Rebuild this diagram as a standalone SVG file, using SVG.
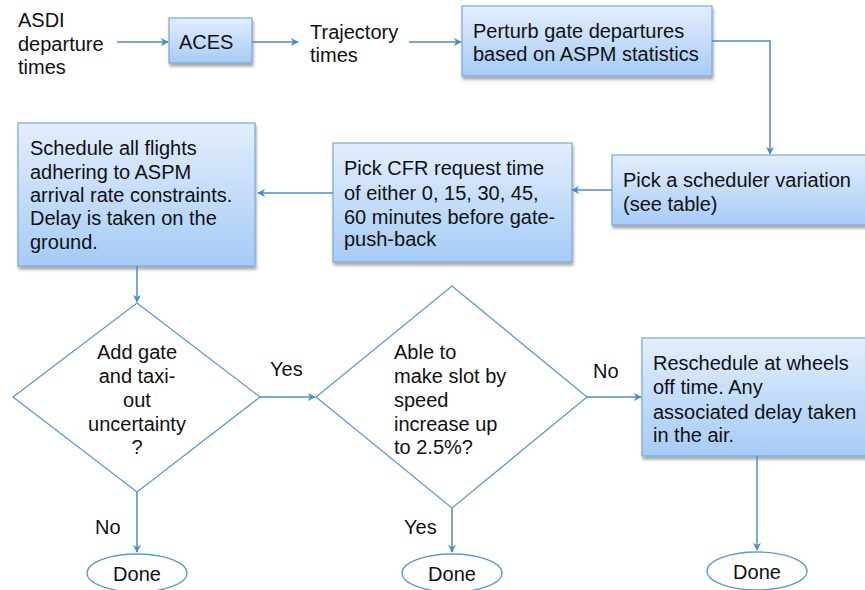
<svg xmlns="http://www.w3.org/2000/svg" width="865" height="590" viewBox="0 0 865 590">
<defs>
<linearGradient id="bg" x1="0" y1="0" x2="0" y2="1">
<stop offset="0" stop-color="#e3eefc"/>
<stop offset="1" stop-color="#a6cbf6"/>
</linearGradient>
<filter id="sh" x="-10%" y="-10%" width="130%" height="140%">
<feDropShadow dx="1" dy="3" stdDeviation="1.5" flood-color="#000" flood-opacity="0.35"/>
</filter>
<marker id="ar" viewBox="0 0 10 10" refX="9" refY="5" markerWidth="8" markerHeight="8" markerUnits="userSpaceOnUse" orient="auto">
<path d="M0,0 L10,5 L0,10 L3,5 Z" fill="#4a8ec8"/>
</marker>
<style>
.box{fill:url(#bg);stroke:#7aa8d8;stroke-width:1.2;filter:url(#sh)}
.dia{fill:#fff;stroke:#5b9bd5;stroke-width:1.3}
.ell{fill:#fff;stroke:#5b9bd5;stroke-width:1.3}
.c{fill:none;stroke:#4a8ec8;stroke-width:1.5;marker-end:url(#ar)}
text{font-family:"Liberation Sans",Arial,sans-serif;font-size:20px;fill:#111}
.m{text-anchor:middle}
</style>
</defs>
<rect width="865" height="590" fill="#fff"/>

<g id="asdi"><text x="18" y="27">ASDI</text><text x="18" y="51">departure</text><text x="18" y="74">times</text></g>
<g id="aces"><rect class="box" x="169" y="18" width="83" height="45"/><text x="179" y="49">ACES</text></g>
<g id="traj"><text x="310" y="39">Trajectory</text><text x="310" y="62">times</text></g>
<g id="perturb"><rect class="box" x="462" y="6" width="250" height="70"/><text x="473" y="38">Perturb gate departures</text><text x="473" y="61">based on ASPM statistics</text></g>
<g id="sched"><rect class="box" x="612" y="155" width="265" height="70"/><text x="623" y="187">Pick a scheduler variation</text><text x="623" y="211">(see table)</text></g>
<g id="cfr"><rect class="box" x="333" y="143" width="239" height="119"/><text x="344" y="175">Pick CFR request time</text><text x="344" y="200">of either 0, 15, 30, 45,</text><text x="344" y="224">60 minutes before gate-</text><text x="344" y="246">push-back</text></g>
<g id="schedall"><rect class="box" x="18" y="123" width="237" height="143"/><text x="30" y="155">Schedule all flights</text><text x="30" y="179">adhering to ASPM</text><text x="30" y="202">arrival rate constraints.</text><text x="30" y="225">Delay is taken on the</text><text x="30" y="249">ground.</text></g>
<g id="d1"><polygon class="dia" points="137,303 260,397 137,492 13,397"/><text class="m" x="137" y="359">Add gate</text><text class="m" x="137" y="383">and taxi-</text><text class="m" x="137" y="407">out</text><text class="m" x="137" y="431">uncertainty</text><text class="m" x="137" y="454">?</text></g>
<g id="d2"><polygon class="dia" points="452,286 587,397 452,508 316,397"/><text x="394" y="359">Able to</text><text x="394" y="383">make slot by</text><text x="394" y="407">speed</text><text x="394" y="431">increase up</text><text x="394" y="454">to 2.5%?</text></g>
<g id="resched"><rect class="box" x="642" y="338" width="235" height="118"/><text x="653" y="370">Reschedule at wheels</text><text x="653" y="394">off time. Any</text><text x="653" y="419">associated delay taken</text><text x="653" y="442">in the air.</text></g>
<g id="done1"><ellipse class="ell" cx="137" cy="573" rx="50" ry="19"/><text class="m" x="137" y="581">Done</text></g>
<g id="done2"><ellipse class="ell" cx="452" cy="573" rx="50" ry="19"/><text class="m" x="452" y="581">Done</text></g>
<g id="done3"><ellipse class="ell" cx="757" cy="571" rx="50" ry="19"/><text class="m" x="757" y="579">Done</text></g>

<g id="connectors">
<path class="c" d="M117,42 H168"/>
<path class="c" d="M252,42 H298"/>
<path class="c" d="M409,42 H461"/>
<path class="c" d="M712,41 H770 V154"/>
<path class="c" d="M612,190 H572"/>
<path class="c" d="M333,193 H258"/>
<path class="c" d="M137,266 V302"/>
<path class="c" d="M260,397 H315"/>
<path class="c" d="M137,492 V552"/>
<path class="c" d="M452,508 V552"/>
<path class="c" d="M587,397 H641"/>
<path class="c" d="M757,456 V550"/>
</g>
<g id="labels">
<text x="270" y="376">Yes</text>
<text x="95" y="534">No</text>
<text x="404" y="534">Yes</text>
<text x="593" y="378">No</text>
</g>
</svg>
